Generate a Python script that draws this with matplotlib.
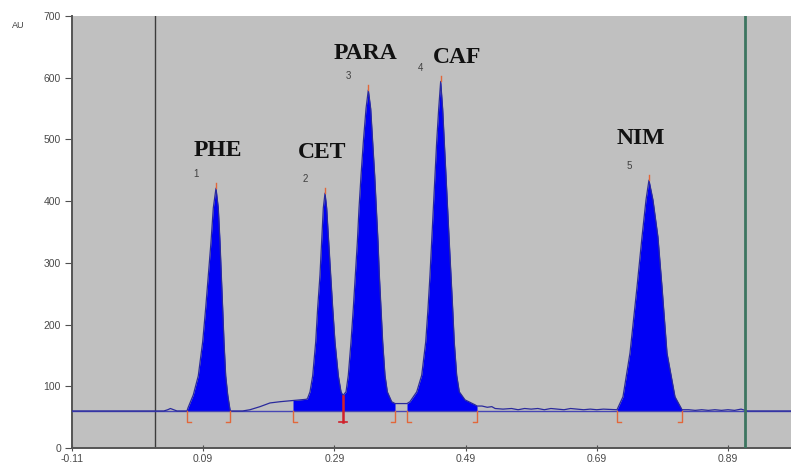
"""
Cromatograma HPLC: PHE, CET, PARA, CAF, NIM
Reproduce la figura del integrador (picos rellenos, marcas de integración).
Salida: out.png
"""
import matplotlib
matplotlib.use("Agg")
import matplotlib.pyplot as plt

TRACE_T = [-0.11, 0.030, 0.036, 0.040, 0.045, 0.050, 0.0653,
           # PHE
           0.0668, 0.0749, 0.0825, 0.0892, 0.0938, 0.0978, 0.1019, 0.1054, 0.1095,
           0.1130, 0.1156, 0.1176, 0.1197, 0.1217, 0.1243, 0.1274, 0.1309, 0.1319,
           # subida de la línea base
           0.150, 0.1613, 0.1766, 0.1918, 0.2071, 0.2269, 0.2478,
           # CET
           0.2493, 0.2528, 0.2569, 0.2615, 0.2645, 0.2680, 0.2706, 0.2731, 0.2757,
           0.2782, 0.2813, 0.2843, 0.2874, 0.2909, 0.2960, 0.3001, 0.3031,
           # PARA
           0.3077, 0.3112, 0.3153, 0.3188, 0.3219, 0.3250, 0.3275, 0.3306, 0.3341,
           0.3382, 0.3417, 0.3453, 0.3483, 0.3514, 0.3539, 0.3565, 0.3585, 0.3610,
           0.3636, 0.3671, 0.3707, 0.3773, 0.3824, 0.4007,
           # CAF
           0.4052, 0.4155, 0.4231, 0.4292, 0.4327, 0.4357, 0.4383, 0.4408, 0.4433,
           0.4459, 0.4490, 0.4520, 0.4550, 0.4575, 0.4601, 0.4626, 0.4651, 0.4677,
           0.4703, 0.4727, 0.4764, 0.4804, 0.4891, 0.5043, 0.5074,
           # línea base ruidosa
           0.515, 0.523, 0.530, 0.535, 0.547, 0.560, 0.570, 0.580, 0.590, 0.600,
           0.610, 0.620, 0.630, 0.640, 0.650, 0.660, 0.670, 0.680, 0.690, 0.700,
           # NIM
           0.7208, 0.7299, 0.7406, 0.7513, 0.7589, 0.7650, 0.7695, 0.7756, 0.7832,
           0.7894, 0.7970, 0.8092, 0.8199,
           0.830, 0.840, 0.850, 0.860, 0.870, 0.880, 0.890, 0.900, 0.910, 0.916,
           0.920, 0.990]
TRACE_AU = [60, 60, 62, 64, 62, 60, 60,
            65, 86, 117, 172, 227, 280, 334, 389, 421,
            389, 334, 280, 227, 172, 117, 86, 62, 60,
            60, 62, 67, 73, 75, 77, 79,
            81, 91, 117, 172, 227, 280, 334, 389, 413,
            389, 334, 280, 227, 172, 117, 91, 85,
            91, 118, 172, 226, 280, 334, 388, 442, 496,
            550, 580, 550, 496, 442, 388, 334, 280, 226,
            172, 118, 91, 75, 72, 72,
            75, 91, 118, 172, 226, 280, 334, 388, 442,
            496, 550, 594, 550, 496, 442, 388, 334, 280,
            226, 172, 118, 91, 78, 70, 68,
            68, 66, 67, 64, 63, 64, 62, 64, 63, 64,
            62, 64, 63, 62, 64, 63, 62, 63, 62, 63,
            62, 83, 154, 261, 342, 402, 434, 402, 342,
            261, 154, 83, 62,
            62, 61, 62, 61, 62, 61, 62, 61, 63, 61,
            60, 60]

BASELINE_AU = 60

# Picos: nombre, número, tiempo de retención y altura del ápice
PEAK_NAMES = ["PHE", "CET", "PARA", "CAF", "NIM"]
PEAK_NUM = ["1", "2", "3", "4", "5"]
PEAK_RT = [0.1095, 0.2757, 0.3417, 0.4520, 0.7695]
PEAK_AU = [421, 413, 580, 594, 434]

# Límites de integración (inicio, fin) de cada pico
INT_START = [0.0653, 0.2269, 0.3031, 0.4007, 0.7208]
INT_END = [0.1309, 0.3031, 0.3824, 0.5074, 0.8199]

# Marcadores verticales del software (inicio/fin de ventana)
VLINE_DARK = 0.0165
VLINE_GREEN = 0.916

X_TICKS = [-0.11, 0.09, 0.29, 0.49, 0.69, 0.89]
Y_TICKS = [0, 100, 200, 300, 400, 500, 600, 700]

# Desplazamiento (puntos) de las etiquetas de nombre respecto al ápice
NAME_OFFSETS = [(1, 27), (-2, 29), (-2, 26), (12, 17), (-6, 30)]


def interp_au(t):
    for i in range(len(TRACE_T) - 1):
        if TRACE_T[i] <= t <= TRACE_T[i + 1]:
            t0, t1 = TRACE_T[i], TRACE_T[i + 1]
            y0, y1 = TRACE_AU[i], TRACE_AU[i + 1]
            return y0 if t1 == t0 else y0 + (y1 - y0) * (t - t0) / (t1 - t0)
    return BASELINE_AU


def graficar():
    fig = plt.figure(figsize=(7.91, 4.68), dpi=100)
    ax = fig.add_axes([72 / 791, 20 / 468, 1 - 72 / 791, 432 / 468])
    ax.set_facecolor("#c0c0c0")
    ax.set_xlim(-0.11, -0.11 + 719 / 656)
    ax.set_ylim(0, 700)

    # relleno de las áreas integradas
    for a, b in zip(INT_START, INT_END):
        ts = [a] + [t for t in TRACE_T if a < t < b] + [b]
        ys = [interp_au(t) for t in ts]
        ax.fill_between(ts, ys, BASELINE_AU, color="#0000f5", lw=0, zorder=3)

    ax.axhline(BASELINE_AU, color="#4646b4", lw=1.0, zorder=4)
    ax.plot(TRACE_T, TRACE_AU, color="#2a2a9c", lw=0.9, zorder=5)

    ax.axvline(VLINE_DARK, color="#3c3c3c", lw=1.0, zorder=2)
    ax.axvline(VLINE_GREEN, color="#3d7560", lw=2.0, zorder=6)

    # marcas de integración
    foot = 0.006
    low = 42
    mark_col = "#e2673a"
    for s in INT_START:
        if s in INT_END:
            continue
        ax.plot([s, s, s + foot], [BASELINE_AU, low, low], color=mark_col, lw=1.0, zorder=7)
    for e in INT_END:
        if e in INT_START:
            continue
        ax.plot([e, e, e - foot], [BASELINE_AU, low, low], color=mark_col, lw=1.0, zorder=7)
    for s in INT_START:
        if s in INT_END:
            ax.plot([s, s], [interp_au(s), low], color="#d0202a", lw=1.8, zorder=7)
            ax.plot([s - foot, s + foot], [low, low], color="#d0202a", lw=1.2, zorder=7)

    # ápices y etiquetas
    for name, num, rt, au, off in zip(PEAK_NAMES, PEAK_NUM, PEAK_RT, PEAK_AU, NAME_OFFSETS):
        ax.plot([rt, rt], [au, au + 9], color=mark_col, lw=1.0, zorder=7)
        ax.annotate(num, (rt, au), xytext=(-14.5, 10), textcoords="offset points",
                    ha="center", va="center", fontsize=7, color="#404040",
                    family="Liberation Sans", zorder=8)
        ax.annotate(name, (rt, au), xytext=off, textcoords="offset points",
                    ha="center", va="center", fontsize=17, fontweight="bold",
                    family="Liberation Serif", color="#111111", zorder=8)

    ax.set_xticks(X_TICKS)
    ax.set_xticklabels([f"{t:.2f}" for t in X_TICKS])
    ax.set_yticks(Y_TICKS)
    ax.tick_params(axis="y", direction="out", length=5, width=0.8, pad=3,
                   colors="#505050", labelsize=7.5)
    ax.tick_params(axis="x", direction="inout", length=4, width=0.8, pad=2,
                   colors="#505050", labelsize=7.5)
    for lab in ax.get_xticklabels() + ax.get_yticklabels():
        lab.set_family("Liberation Sans")
        lab.set_color("#4a4a4a")

    for side in ["top", "right"]:
        ax.spines[side].set_visible(False)
    for side in ["left", "bottom"]:
        ax.spines[side].set_color("#555555")
        ax.spines[side].set_linewidth(1.4)

    fig.text(18 / 791, 1 - 25 / 468, "AU", fontsize=6.5, color="#404040",
             family="Liberation Sans", ha="center", va="center")

    fig.savefig("out.png", dpi=100)


if __name__ == "__main__":
    graficar()
